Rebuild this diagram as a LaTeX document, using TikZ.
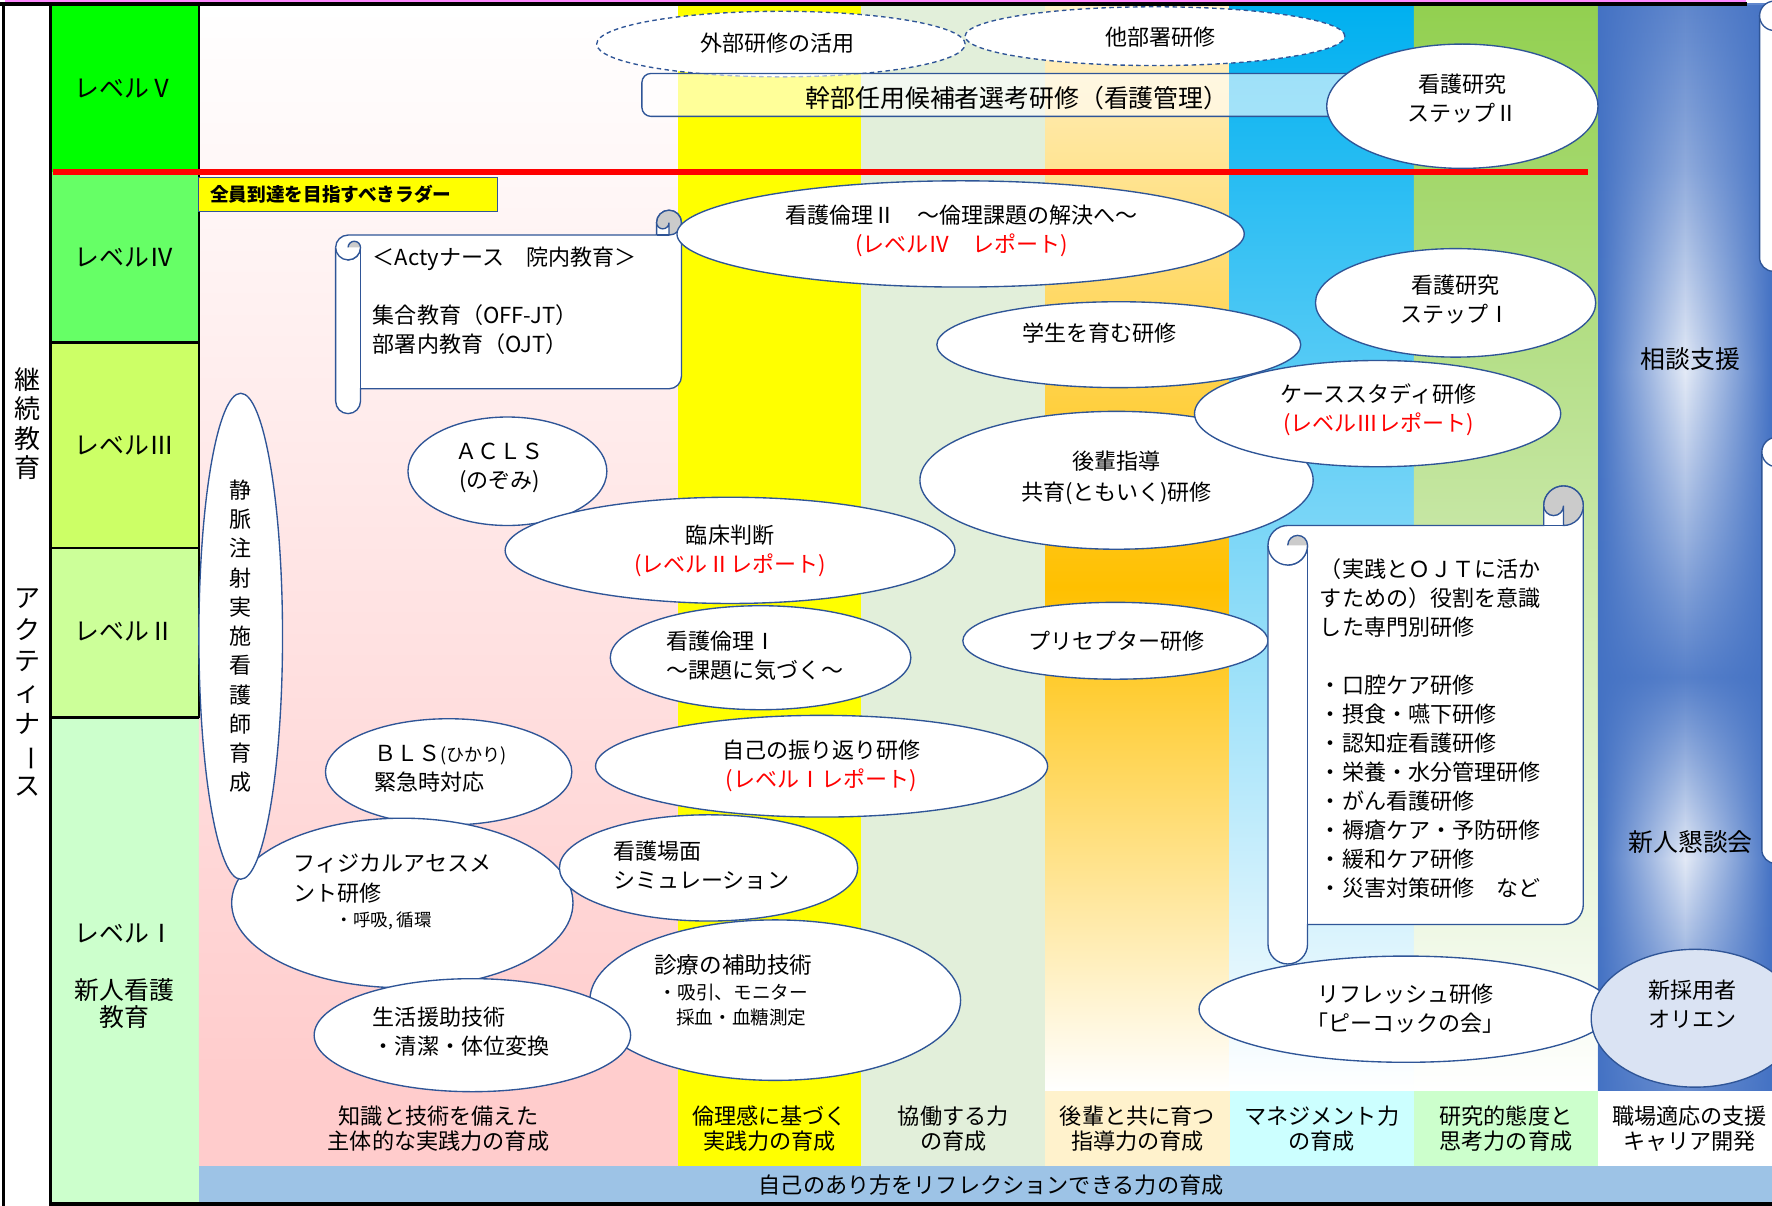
\documentclass[tikz,border=0pt]{standalone}
\usepackage{fontspec}
\setmainfont{Noto Sans CJK JP}
\usetikzlibrary{shapes.geometric,fadings}
\definecolor{bd}{HTML}{2F5597}
\definecolor{lvV}{HTML}{00FF00}
\definecolor{lvIV}{HTML}{66FF66}
\definecolor{lvIII}{HTML}{CCFF66}
\definecolor{lvII}{HTML}{CCFF99}
\definecolor{lvI}{HTML}{CCFFCC}
\definecolor{pinkc}{HTML}{FFCCCC}
\definecolor{yel}{HTML}{FFFF00}
\definecolor{gry}{HTML}{E2EFDA}
\definecolor{orl}{HTML}{FFF2CC}
\definecolor{ora}{HTML}{FFC000}
\definecolor{cya}{HTML}{00B0F0}
\definecolor{cyl}{HTML}{CCFFFF}
\definecolor{grn}{HTML}{92D050}
\definecolor{grl}{HTML}{CCFFCC}
\definecolor{cb}{HTML}{4472C4}
\definecolor{barc}{HTML}{9DC3E6}
\definecolor{topp}{HTML}{FF88FF}
\definecolor{orien}{HTML}{DAE3F3}
\definecolor{scgrey}{HTML}{CBCBCB}
\pgfdeclareverticalshading{bluecol}{100bp}{color(0bp)=(white!20!cb); color(25bp)=(white!20!cb); color(29.43bp)=(white!35!cb); color(35.68bp)=(white!85!cb); color(44.01bp)=(white!10!cb); color(50.26bp)=(white!45!cb); color(58.07bp)=(white!85!cb); color(67.45bp)=(white!40!cb); color(75bp)=(white!15!cb); color(100bp)=(white!15!cb)}
\newcommand{\hscroll}[5]{%
 \pgfmathsetmacro\scL{#1}\pgfmathsetmacro\scT{#2}\pgfmathsetmacro\scR{#3}\pgfmathsetmacro\scB{#4}\pgfmathsetmacro\scC{#5}%
 \pgfmathsetmacro\scH{\scC/2}\pgfmathsetmacro\scQ{\scC/4}%
 \pgfmathsetmacro\scYa{\scT+1.5*\scC}%
 \pgfmathsetmacro\scYb{\scT+\scC}%
 \pgfmathsetmacro\scYc{\scT+\scH}%
 \pgfmathsetmacro\scYd{\scT+2*\scC}%
 \pgfmathsetmacro\scYe{\scB-\scC}%
 \pgfmathsetmacro\scYf{\scB-\scH}%
 \pgfmathsetmacro\scYg{\scB-1.5*\scC}%
 \pgfmathsetmacro\scXa{\scL+\scH}%
 \pgfmathsetmacro\scXb{\scL+\scC}%
 \pgfmathsetmacro\scXc{\scR-\scC}%
 \pgfmathsetmacro\scXd{\scR-\scH}%
 \filldraw[scrollsty] (\scL,\scYa) arc[start angle=180,end angle=270,radius=\scH] -- (\scXc,\scYb) -- (\scXc,\scYc) arc[start angle=180,end angle=360,radius=\scH] -- (\scR,\scYg) arc[start angle=0,end angle=90,radius=\scH] -- (\scXb,\scYe) -- (\scXb,\scYf) arc[start angle=0,end angle=180,radius=\scH] -- cycle;
 \filldraw[scrollsty, fill=scgrey] (\scXd,\scYb) arc[start angle=90,end angle=-180,radius=\scH] arc[start angle=180,end angle=0,radius=\scQ] -- cycle;
 \draw[scrollsty] (\scXc,\scYb) -- (\scXd,\scYb);
 \filldraw[scrollsty, fill=scgrey] (\scXa,\scYd) arc[start angle=90,end angle=0,radius=\scH] arc[start angle=0,end angle=-180,radius=\scQ] -- cycle;
 \draw[scrollsty] (\scXb,\scYa) arc[start angle=0,end angle=180,radius=\scH];
 \draw[scrollsty] (\scXb,\scYa) -- (\scXb,\scYe);
}
\begin{document}
\begin{tikzpicture}[x=1pt,y=-1pt,
  ell/.style={ellipse, draw=bd, line width=1.2pt, fill=white, inner sep=0pt},
  dell/.style={ell, dash pattern=on 4pt off 3pt},
  scrollsty/.style={draw=bd, line width=1.2pt, fill=white},
  tx/.style={inner sep=0pt, outer sep=0pt},
  f195/.style={tx, font=\fontsize{19.5}{25.7}\selectfont},
  f22/.style={tx, font=\fontsize{22}{26}\selectfont},
  fb/.style={tx, font=\fontsize{19.6}{22}\selectfont, align=center},
  lvl/.style={line width=2pt}]
\useasboundingbox (0,0) rectangle (1568,1067);
\clip (0,0) rectangle (1568,1067);
% level boxes
\fill[lvV] (45,5) rectangle (176,152);
\fill[lvIV] (45,152) rectangle (176,303);
\fill[lvIII] (45,303) rectangle (176,485);
\fill[lvII] (45,485) rectangle (176,635);
\fill[lvI] (45,635) rectangle (176,1067);
% columns
\shade[top color=white, bottom color=pinkc] (176,5) rectangle (600,965);
\fill[yel] (600,5) rectangle (762,965);
\fill[gry] (762,5) rectangle (925,965);
\shade[top color=orl, bottom color=ora] (925,5) rectangle (1088,520);
\shade[top color=ora, bottom color=white] (925,519) rectangle (1088,965);
\shade[top color=cya, bottom color=white] (1088,5) rectangle (1251,965);
\shade[top color=grn, bottom color=white] (1251,5) rectangle (1414,965);
\shade[shading=bluecol] (1414,3) rectangle (1568,965);
\fill[cb, path fading=east] (1414,3) rectangle (1491,965);
\fill[cb, path fading=west] (1491,3) rectangle (1568,965);
% label rows
\fill[pinkc] (176,965) rectangle (600,1032);
\fill[yel] (600,965) rectangle (762,1032);
\fill[gry] (762,965) rectangle (925,1032);
\fill[orl] (925,965) rectangle (1088,1032);
\fill[cyl] (1088,965) rectangle (1251,1032);
\fill[grl] (1251,965) rectangle (1414,1032);
\fill[white] (1414,965) rectangle (1568,1032);
\fill[barc] (176,1032) rectangle (1568,1065);
% frame
\fill[topp] (4,0) rectangle (1545,2.2);
\draw[line width=3pt] (0,3.5) -- (1546,3.5);
\draw[line width=2.5pt] (3,2) -- (3,1067);
\draw[line width=2.5pt] (45,2) -- (45,1067);
\draw[lvl] (176,3) -- (176,635);
\draw[lvl] (45,303) -- (176,303);
\draw[lvl] (45,485) -- (176,485);
\draw[lvl] (45,635) -- (176,635);
\draw[line width=3pt] (45,1065.5) -- (1568,1065.5);
\draw[red, line width=5pt] (47,152) -- (1405,152);
% partial shapes at right edge
\filldraw[scrollsty] (1557,14) -- (1557,228) arc[start angle=180,end angle=90,radius=12] -- (1600,240) -- (1600,14) -- cycle;
\filldraw[scrollsty] (1570,14) circle[radius=13];
\filldraw[scrollsty] (1559,400) -- (1559,752) arc[start angle=180,end angle=90,radius=12] -- (1600,764) -- (1600,400) -- cycle;
\filldraw[scrollsty] (1572,400) circle[radius=13];
% top
\node[dell, minimum width=326pt, minimum height=58pt] (gaibu) at (691,39) {};
\node[dell, minimum width=336pt, minimum height=52pt] (tabu) at (1022,32) {};
\node[draw=bd, line width=1.2pt, fill=white, fill opacity=0.6, draw opacity=1, rounded corners=8pt, minimum width=632pt, minimum height=38pt, inner sep=0pt] (kanbu) at (884,84) {};
\node[ell, minimum width=240pt, minimum height=110pt] (ken2) at (1294,94) {};
\node[draw=bd, line width=1pt, fill=yel, minimum width=264pt, minimum height=30pt, inner sep=0pt] (zenin) at (308,172) {};
% scroll 1
\hscroll{297}{186}{603}{366}{22}
\node[ell, minimum width=502pt, minimum height=94pt] (rinri2) at (850,207) {};
\node[ell, minimum width=248pt, minimum height=96pt] (ken1) at (1288,268) {};
\node[ell, minimum width=322pt, minimum height=76pt] (gakusei) at (990,305) {};
\node[ell, minimum width=348pt, minimum height=122pt] (kohai) at (988,425) {};
\node[ell, minimum width=324pt, minimum height=94pt] (case) at (1219,366) {};
\node[ell, minimum width=176pt, minimum height=96pt] (acls) at (449,417) {};
\node[ell, minimum width=398pt, minimum height=94pt] (rinsho) at (646,487) {};
\node[ell, minimum width=266pt, minimum height=92pt] (rinri1) at (673,582) {};
\node[ell, minimum width=270pt, minimum height=68pt] (precep) at (987,567) {};
\node[ell, minimum width=218pt, minimum height=94pt] (bls) at (397,683) {};
\node[ell, minimum width=400pt, minimum height=90pt] (jiko) at (727,678) {};
\node[ell, minimum width=302pt, minimum height=150pt] (phys) at (356,799) {};
\node[ell, minimum width=74pt, minimum height=430pt] (jomyaku) at (213,563) {};
\node[ell, minimum width=264pt, minimum height=94pt] (bamen) at (627,768) {};
\node[ell, minimum width=328pt, minimum height=142pt] (shinryo) at (686,885) {};
\node[ell, minimum width=280pt, minimum height=100pt] (seikatsu) at (418,916) {};
% scroll 2
\hscroll{1122}{430}{1401}{853}{35}
\node[ell, minimum width=366pt, minimum height=94pt] (refresh) at (1244,893) {};
\node[ell, fill=orien, minimum width=184pt, minimum height=122pt] (orien) at (1500,901) {};
% level labels
\node[f22] (tV) at (110,78) {レベルⅤ};
\node[f22] (tIV) at (110,228) {レベルⅣ};
\node[f22] (tIII) at (110,394) {レベルⅢ};
\node[f22] (tII) at (110,559) {レベルⅡ};
\node[f22] (tI) at (110,826) {レベルⅠ};
\node[tx, font=\fontsize{22}{24}\selectfont, align=center] (tshinjin) at (110,888) {新人看護\\教育};
\node[tx, font=\fontsize{23}{26}\selectfont, align=center] (tkeizoku) at (24,375) {継\\続\\教\\育};
\node[tx, font=\fontsize{23}{27.7}\selectfont, align=center] (tacty) at (24,613) {ア\\ク\\テ\\ィ\\ナ\\\rotatebox[origin=c]{-90}{ー}\\ス};
% texts
\node[f195] (t-gaibu) at (688,38) {外部研修の活用};
\node[f195] (t-tabu) at (1027,32.5) {他部署研修};
\node[f22] (t-kanbu) at (900,87) {幹部任用候補者選考研修（看護管理）};
\node[f195, align=center] (t-ken2) at (1294,87) {看護研究\\ステップⅡ};
\node[tx, font=\bfseries\fontsize{16.5}{20}\selectfont, anchor=west] (t-zenin) at (186,172) {全員到達を目指すべきラダー};
\node[f195, align=left, anchor=west] (t-acty) at (330,266) {＜Actyナース　院内教育＞\\[25.3pt]集合教育（OFF-JT）\\部署内教育（OJT）};
\node[f195, align=center] (t-rinri2) at (851,204.5) {看護倫理Ⅱ　～倫理課題の解決へ～\\\textcolor{red}{(レベルⅣ　レポート)}};
\node[f195, align=center] (t-ken1) at (1288,265) {看護研究\\ステップⅠ};
\node[f195] (t-gakusei) at (973,295) {学生を育む研修};
\node[f195, align=center] (t-case) at (1220,363) {ケーススタディ研修\\\textcolor{red}{(レベルⅢレポート)}};
\node[tx, font=\fontsize{19.5}{28}\selectfont, align=center] (t-kohai) at (988,423) {後輩指導\\共育(ともいく)研修};
\node[f195, align=center] (t-acls) at (442,414) {ＡＣＬＳ\\(のぞみ)};
\node[f195, align=center] (t-rinsho) at (646,487.5) {臨床判断\\\textcolor{red}{(レベルⅡレポート)}};
\node[f195, align=left, anchor=west] (t-rinri1) at (590,580) {看護倫理Ⅰ\\～課題に気づく～};
\node[f195] (t-precep) at (988,567) {プリセプター研修};
\node[f195, align=left, anchor=west] (t-bls) at (331,680) {ＢＬＳ{\fontsize{16}{20}\selectfont (ひかり)}\\緊急時対応};
\node[f195, align=center] (t-jiko) at (727,677.5) {自己の振り返り研修\\\textcolor{red}{(レベルⅠレポート)}};
\node[f195, align=left, anchor=west] (t-phys) at (260,777.5) {フィジカルアセスメ\\ント研修};
\node[tx, font=\fontsize{15.5}{20}\selectfont, anchor=west] (t-phys2) at (297,815) {・呼吸, 循環};
\node[f195, align=left, anchor=west] (t-bamen) at (543,766) {看護場面\\シミュレーション};
\node[tx, font=\fontsize{20}{24}\selectfont] (t-shin1) at (649,854) {診療の補助技術};
\node[tx, font=\fontsize{16.5}{22}\selectfont] (t-shin2) at (649,878) {・吸引、モニター};
\node[tx, font=\fontsize{16.5}{22}\selectfont] (t-shin3) at (656,900) {採血・血糖測定};
\node[f195, align=left, anchor=west] (t-seik) at (330,913) {生活援助技術\\・清潔・体位変換};
\node[tx, font=\fontsize{19.5}{25.9}\selectfont, align=center] (t-jomyaku) at (213,563) {静\\脈\\注\\射\\実\\施\\看\\護\\師\\育\\成};
\node[f195, align=center] (t-refresh) at (1244,892.5) {リフレッシュ研修\\｢ピーコックの会｣};
\node[f195, align=center] (t-orien) at (1498,888.5) {新採用者\\オリエン};
\node[f22] (t-sodan) at (1496,318) {相談支援};
\node[f22] (t-kondan) at (1496,745) {新人懇談会};
\node[f195, align=left, anchor=west] (t-scroll) at (1168,644.5) {（実践とＯＪＴに活か\\すための）役割を意識\\した専門別研修\\[25.7pt]・口腔ケア研修\\・摂食・嚥下研修\\・認知症看護研修\\・栄養・水分管理研修\\・がん看護研修\\・褥瘡ケア・予防研修\\・緩和ケア研修\\・災害対策研修　など};
% bottom labels
\node[fb] (b1) at (388,999) {知識と技術を備えた\\主体的な実践力の育成};
\node[fb] (b2) at (681,999) {倫理感に基づく\\実践力の育成};
\node[fb] (b3) at (843.5,999) {協働する力\\の育成};
\node[fb] (b4) at (1006.5,999) {後輩と共に育つ\\指導力の育成};
\node[fb] (b5) at (1169.5,999) {マネジメント力\\の育成};
\node[fb] (b6) at (1332.5,999) {研究的態度と\\思考力の育成};
\node[fb] (b7) at (1495,999) {職場適応の支援\\キャリア開発};
\node[fb] (bar) at (877,1049) {自己のあり方をリフレクションできる力の育成};
\end{tikzpicture}
\end{document}
